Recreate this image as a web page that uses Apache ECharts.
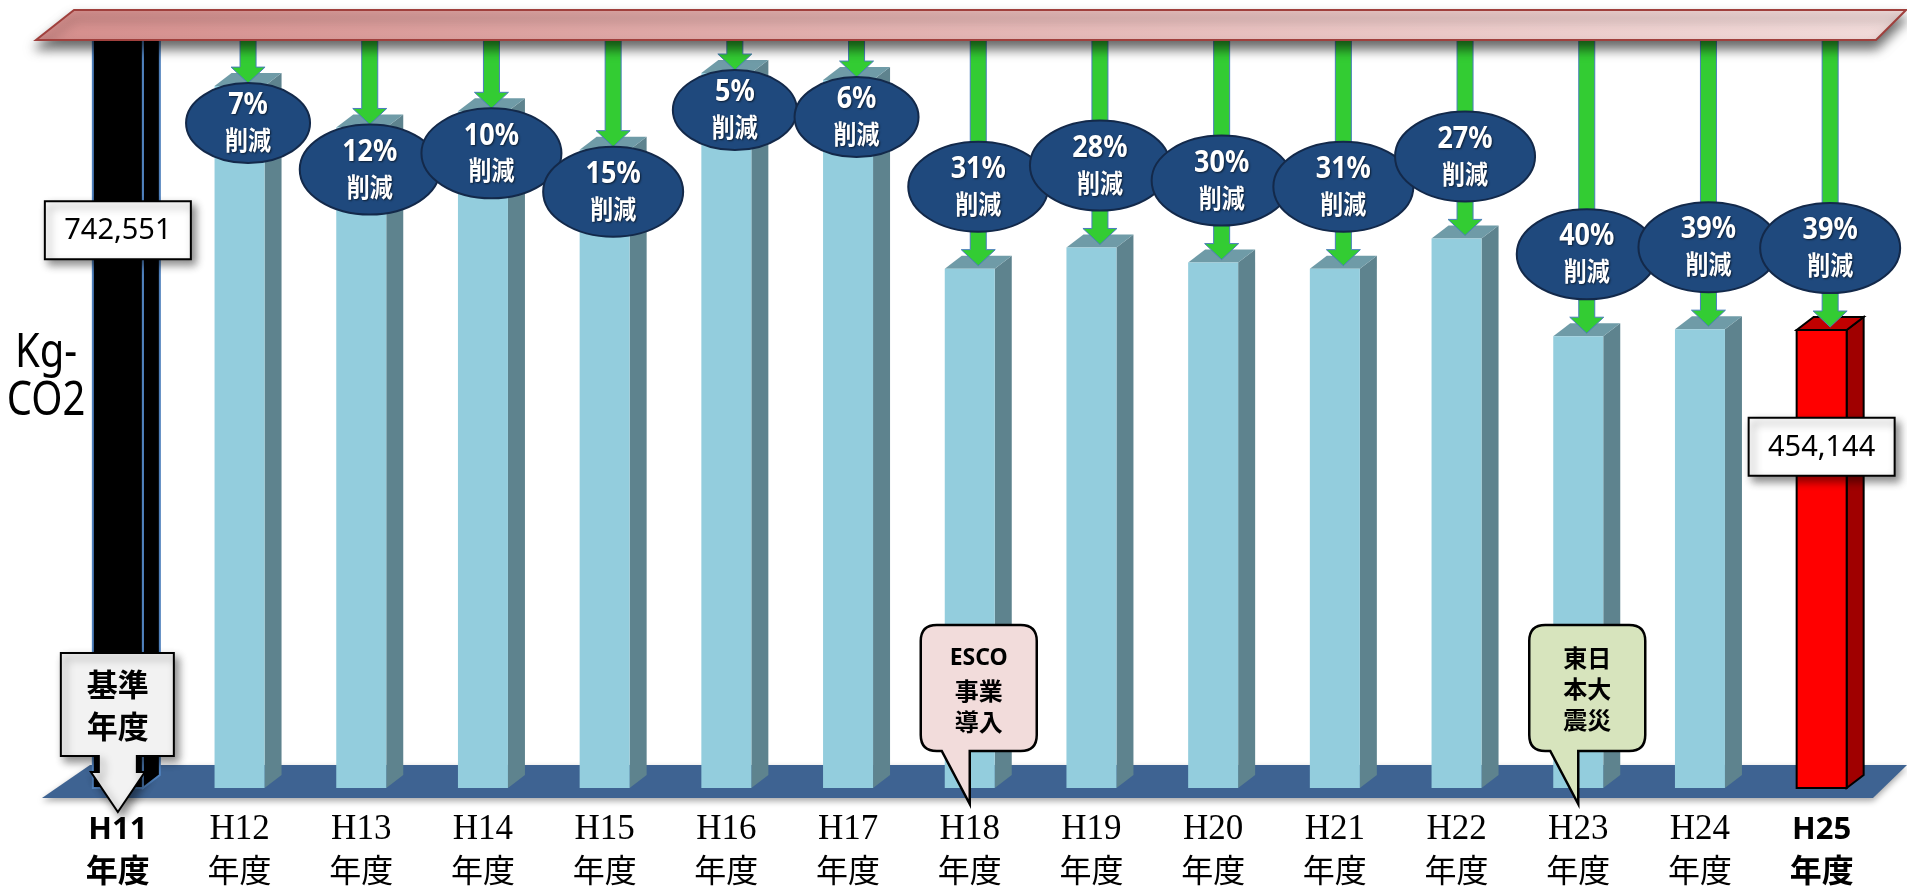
<!DOCTYPE html>
<html>
<head>
<meta charset="utf-8">
<title>CO2 削減</title>
<script src="https://cdn.jsdelivr.net/npm/echarts@6/dist/echarts.min.js"></script>
<style>
html, body { margin: 0; padding: 0; background: #fff; }
#main { width: 1907px; height: 889px; }
</style>
</head>
<body>
<div id="main"></div>
<script>
// データ
var years = ['H11', 'H12', 'H13', 'H14', 'H15', 'H16', 'H17', 'H18', 'H19', 'H20', 'H21', 'H22', 'H23', 'H24', 'H25'];
var yearSuffix = '年度';
var emissions = [742551, 696000, 655000, 671000, 633000, 709000, 702000, 515000, 536000, 521000, 515000, 545000, 448000, 455000, 454144];
var cuts = ['', '7%', '12%', '10%', '15%', '5%', '6%', '31%', '28%', '30%', '31%', '27%', '40%', '39%', '39%'];
var cutWord = '削減';
var notes = ['基準\n年度', '', '', '', '', '', '', 'ESCO\n事業\n導入', '', '', '', '', '東日\n本大\n震災', '', ''];
var unitText = 'Kg-\nCO2';

var chart = echarts.init(document.getElementById('main'));
var last = years.length - 1;
var DX = 17, DY = 13, BAR_W = 50, BANNER_Y = 40;
var noteFill = { 7: '#F2DCDB', 12: '#D7E4BD' };
var jp = '"Noto Sans CJK JP", sans-serif';

var seriesData = emissions.map(function (v, i) { return [i, v]; });

function barColors(i) {
	if (i === 0) return { front: '#000', side: '#000', top: '#000', stroke: '#4F81BD', lw: 2 };
	if (i === last) return { front: '#FF0000', side: '#A00000', top: '#C00000', stroke: '#000', lw: 2 };
	return { front: '#93CDDD', side: '#5E838E', top: '#6F9BA7', stroke: null, lw: 0 };
}

function renderBar(params, api) {
	var i = params.dataIndex;
	var base = api.coord([i, 0]);
	var top = api.coord([i, api.value(1)]);
	var x0 = base[0] - BAR_W / 2, x1 = base[0] + BAR_W / 2;
	var yT = top[1], yB = base[1];
	var c = barColors(i);
	function face(pts, fill) {
		return { type: 'polygon', shape: { points: pts }, style: { fill: fill, stroke: c.stroke, lineWidth: c.lw } };
	}
	return {
		type: 'group',
		children: [
			face([[x1, yT], [x1 + DX, yT - DY], [x1 + DX, yB - DY], [x1, yB]], c.side),
			face([[x0, yT], [x0 + DX, yT - DY], [x1 + DX, yT - DY], [x1, yT]], c.top),
			face([[x0, yT], [x1, yT], [x1, yB], [x0, yB]], c.front)
		]
	};
}

function tipOf(api, i) {
	var base = api.coord([i, 0]);
	var top = api.coord([i, api.value(1)]);
	return { cx: base[0] + DX / 2, tip: top[1] - 3, top: top[1], base: base[1], x: base[0] };
}

function renderArrow(params, api) {
	var i = params.dataIndex;
	if (!cuts[i]) return null;
	var p = tipOf(api, i), cx = p.cx, tip = p.tip;
	return {
		type: 'polygon',
		shape: { points: [[cx - 8, BANNER_Y - 5], [cx + 8, BANNER_Y - 5], [cx + 8, tip - 16], [cx + 17, tip - 16], [cx, tip], [cx - 17, tip - 16], [cx - 8, tip - 16]] },
		style: { fill: '#33CC33', stroke: '#4A7EBB', lineWidth: 1 }
	};
}

function renderBubble(params, api) {
	var i = params.dataIndex;
	if (!cuts[i]) return null;
	var p = tipOf(api, i);
	var wide = cuts[i].length > 2;
	var rx = wide ? 70 : 62, ry = wide ? 45 : 40;
	var cy = p.tip < 200 ? p.tip + ry : p.tip - 34 - ry;
	var shadow = { textShadowColor: 'rgba(0,0,0,0.6)', textShadowBlur: 2, textShadowOffsetX: 1, textShadowOffsetY: 1 };
	return {
		type: 'group',
		children: [
			{ type: 'ellipse', shape: { cx: p.cx, cy: cy, rx: rx, ry: ry }, style: { fill: '#1F497D', stroke: '#13294A', lineWidth: 2 } },
			{
				type: 'text',
				x: p.cx, y: cy, scaleY: 1.12,
				style: {
					x: 0, y: 0, align: 'center', verticalAlign: 'middle',
					text: '{p|' + cuts[i] + '}\n{c|' + cutWord + '}',
					rich: {
						p: Object.assign({ fill: '#fff', fontFamily: '"Noto Sans", sans-serif', fontWeight: 'bold', fontSize: 27, lineHeight: 31 }, shadow),
						c: Object.assign({ fill: '#fff', fontFamily: jp, fontWeight: 'bold', fontSize: 23, lineHeight: 31 }, shadow)
					}
				}
			}
		]
	};
}

function renderValue(params, api) {
	var i = params.dataIndex;
	if (i !== 0 && i !== last) return null;
	var p = tipOf(api, i);
	var cy = p.top + 0.255 * (p.base - p.top);
	return {
		type: 'group',
		children: [
			{ type: 'rect', shape: { x: p.x - 73, y: cy - 29, width: 146, height: 58 },
				style: { fill: '#fff', stroke: '#000', lineWidth: 2, shadowBlur: 8, shadowOffsetX: 4, shadowOffsetY: 5, shadowColor: 'rgba(0,0,0,0.45)' } },
			{ type: 'text', style: { x: p.x, y: cy + 1, text: emissions[i].toLocaleString('en-US'), align: 'center', verticalAlign: 'middle',
				fill: '#000', fontFamily: '"Noto Sans", sans-serif', fontSize: 29 } }
		]
	};
}

function renderNote(params, api) {
	var i = params.dataIndex;
	if (!notes[i]) return null;
	var p = tipOf(api, i), c = p.x, b = p.base;
	if (i === 0) {
		var pts = [[c - 57, b - 135], [c + 56, b - 135], [c + 56, b - 32], [c + 19, b - 32], [c + 19, b - 16], [c + 27, b - 16],
			[c, b + 24], [c - 27, b - 16], [c - 19, b - 16], [c - 19, b - 32], [c - 57, b - 32]];
		return {
			type: 'group',
			children: [
				{ type: 'polygon', shape: { points: pts },
					style: { fill: '#F2F2F2', stroke: '#000', lineWidth: 2, shadowBlur: 8, shadowOffsetX: 4, shadowOffsetY: 5, shadowColor: 'rgba(0,0,0,0.45)' } },
				{ type: 'text', style: { x: c, y: b - 83, text: notes[i], align: 'center', verticalAlign: 'middle', lineHeight: 42,
					fill: '#000', fontFamily: jp, fontWeight: 'bold', fontSize: 31 } }
			]
		};
	}
	var L = c - 49, R = c + 67, T = b - 163, B = b - 37, r = 16, tipY = b + 16;
	var d = 'M' + (L + r) + ' ' + T + ' L' + (R - r) + ' ' + T + ' Q' + R + ' ' + T + ' ' + R + ' ' + (T + r) +
		' L' + R + ' ' + (B - r) + ' Q' + R + ' ' + B + ' ' + (R - r) + ' ' + B + ' L' + c + ' ' + B +
		' L' + c + ' ' + tipY + ' L' + (L + 21) + ' ' + B + ' L' + (L + r) + ' ' + B +
		' Q' + L + ' ' + B + ' ' + L + ' ' + (B - r) + ' L' + L + ' ' + (T + r) + ' Q' + L + ' ' + T + ' ' + (L + r) + ' ' + T + ' Z';
	var lines = notes[i].split('\n').map(function (s) {
		return /^[A-Za-z]+$/.test(s) ? '{e|' + s + '}' : '{j|' + s + '}';
	}).join('\n');
	return {
		type: 'group',
		children: [
			{ type: 'path', shape: { pathData: d }, style: { fill: noteFill[i] || '#fff', stroke: '#000', lineWidth: 2.5 } },
			{ type: 'text', style: { x: (L + R) / 2, y: (T + B) / 2 + 1, text: lines, align: 'center', verticalAlign: 'middle',
				rich: {
					e: { fill: '#000', fontFamily: '"Noto Sans", sans-serif', fontWeight: 'bold', fontSize: 23, lineHeight: 34 },
					j: { fill: '#000', fontFamily: jp, fontWeight: 'bold', fontSize: 24, lineHeight: 31 }
				} } }
		]
	};
}

var option = {
	animation: false,
	backgroundColor: '#fff',
	grid: { left: 57, right: 24.5, top: 11.5, bottom: 101 },
	xAxis: {
		type: 'category',
		data: years,
		axisLine: { show: false },
		axisTick: { show: false },
		axisLabel: {
			interval: 0,
			margin: 22,
			formatter: function (v, i) {
				var bold = i === 0 || i === last;
				return bold ? '{hb|' + v + '}\n{nb|' + yearSuffix + '}' : '{h|' + v + '}\n{n|' + yearSuffix + '}';
			},
			rich: {
				h: { fontFamily: '"Liberation Serif", serif', fontSize: 35, color: '#000', lineHeight: 40 },
				n: { fontFamily: jp, fontSize: 32, color: '#000', lineHeight: 40 },
				hb: { fontFamily: '"Noto Sans", sans-serif', fontWeight: 'bold', fontSize: 31, color: '#000', lineHeight: 40 },
				nb: { fontFamily: jp, fontWeight: 'bold', fontSize: 32, color: '#000', lineHeight: 40 }
			}
		}
	},
	yAxis: { type: 'value', show: false, min: 0, max: 770000 },
	graphic: [
		{
			type: 'polygon', z: 0,
			shape: { points: [[90, 765], [1907, 765], [1873, 798], [42, 798]] },
			style: { fill: '#3E6392', shadowBlur: 6, shadowOffsetY: 3, shadowColor: 'rgba(0,0,0,0.35)' }
		},
		{
			type: 'polygon', z: 10,
			shape: { points: [[74, 10], [1906, 10], [1876, 40], [36, 40]] },
			style: {
				fill: new echarts.graphic.LinearGradient(0, 0, 1, 0, [
					{ offset: 0, color: '#D68F8D' },
					{ offset: 1, color: '#F2DCDB' }
				]),
				stroke: '#A0403D', lineWidth: 2,
				shadowBlur: 12, shadowOffsetY: 8, shadowColor: 'rgba(0,0,0,0.6)'
			}
		},
		{
			type: 'text', z: 1, x: 46, y: 377, scaleY: 1.2,
			style: { text: unitText, align: 'center', verticalAlign: 'middle', lineHeight: 40,
				fill: '#000', fontFamily: '"Noto Sans", sans-serif', fontSize: 40 }
		}
	],
	series: [
		{ type: 'custom', name: 'bars', z: 2, clip: false, data: seriesData, renderItem: renderBar },
		{ type: 'custom', name: 'arrows', z: 3, clip: false, data: seriesData, renderItem: renderArrow },
		{ type: 'custom', name: 'bubbles', z: 4, clip: false, data: seriesData, renderItem: renderBubble },
		{ type: 'custom', name: 'values', z: 5, clip: false, data: seriesData, renderItem: renderValue },
		{ type: 'custom', name: 'notes', z: 6, clip: false, data: seriesData, renderItem: renderNote }
	]
};

chart.setOption(option);

window.addEventListener('resize', function () {
	chart.resize();
});
</script>
</body>
</html>
